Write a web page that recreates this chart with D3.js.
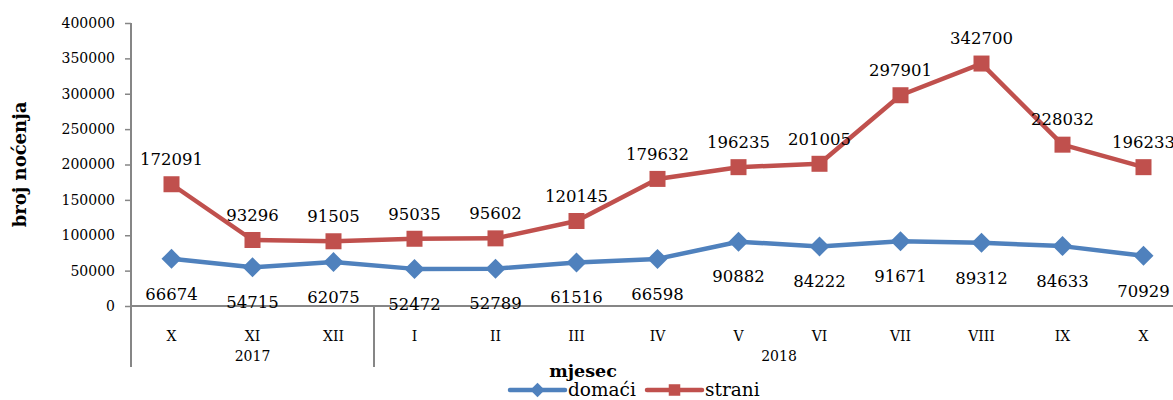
<!DOCTYPE html>
<html>
<head>
<meta charset="utf-8">
<script src="https://d3js.org/d3.v7.min.js"></script>
<style>
  body { margin: 0; background: #fff; }
  svg { display: block; }
  text { font-family: "DejaVu Serif", "Liberation Serif", serif; fill: #000; }
</style>
</head>
<body>
<div id="chart"></div>
<script>
//---------------------------DATA---------------------------//
var months = ["X", "XI", "XII", "I", "II", "III", "IV", "V", "VI", "VII", "VIII", "IX", "X"];
var years = [{ label: "2017", from: 0, to: 3 }, { label: "2018", from: 3, to: 13 }];
var domaci = [66674, 54715, 62075, 52472, 52789, 61516, 66598, 90882, 84222, 91671, 89312, 84633, 70929];
var strani = [172091, 93296, 91505, 95035, 95602, 120145, 179632, 196235, 201005, 297901, 342700, 228032, 196233];
var yTicks = [0, 50000, 100000, 150000, 200000, 250000, 300000, 350000, 400000];

var series = [
    { name: "domaći", values: domaci, color: "#4F81BD", marker: "diamond", labelDy: 35 },
    { name: "strani", values: strani, color: "#C0504D", marker: "square", labelDy: -25 }
];

//---------------------------SVG----------------------------//
var W = 1173, H = 400;
var plotLeft = 131, plotRight = 1184, plotTop = 23, plotBottom = 306;

var svg = d3.select("#chart").append("svg")
    .attr("width", W)
    .attr("height", H);

//--------------------------SCALES--------------------------//
var x = d3.scaleBand()
    .domain(d3.range(months.length))
    .range([plotLeft, plotRight]);

var y = d3.scaleLinear()
    .domain([0, 400000])
    .range([plotBottom, plotTop]);

//---------------------------AXES---------------------------//
var axisColor = "#868686";

var yAxis = svg.append("g")
    .attr("transform", "translate(" + plotLeft + ",0)")
    .call(d3.axisLeft(y).tickValues(yTicks).tickSize(6).tickPadding(10).tickFormat(d3.format("d")));
yAxis.select(".domain").remove();
yAxis.selectAll(".tick line").attr("stroke", axisColor).attr("stroke-width", 1.5);
yAxis.selectAll(".tick text").style("font-size", "14px");

// vertical axis line, running down through the category area
svg.append("line")
    .attr("x1", plotLeft).attr("x2", plotLeft)
    .attr("y1", plotTop).attr("y2", 367)
    .attr("stroke", axisColor).attr("stroke-width", 2);

// x axis line
svg.append("line")
    .attr("x1", plotLeft).attr("x2", plotRight)
    .attr("y1", plotBottom).attr("y2", plotBottom)
    .attr("stroke", axisColor).attr("stroke-width", 2);

// month labels
svg.selectAll(".month")
    .data(months)
    .enter()
    .append("text")
    .attr("class", "month")
    .attr("x", function(d, i) { return x(i) + x.bandwidth() / 2; })
    .attr("y", 341)
    .attr("text-anchor", "middle")
    .style("font-size", "14px")
    .text(function(d) { return d; });

// year groups + separator
years.forEach(function(g, i) {
    var x0 = x(g.from);
    var x1 = g.to < months.length ? x(g.to) : plotRight;
    svg.append("text")
        .attr("x", (x0 + x1) / 2)
        .attr("y", 361)
        .attr("text-anchor", "middle")
        .style("font-size", "14px")
        .text(g.label);
    if (i > 0) {
        svg.append("line")
            .attr("x1", x0).attr("x2", x0)
            .attr("y1", plotBottom).attr("y2", 367)
            .attr("stroke", axisColor).attr("stroke-width", 2);
    }
});

// axis titles
svg.append("text")
    .attr("transform", "translate(26," + ((plotTop + plotBottom) / 2) + ") rotate(-90)")
    .attr("text-anchor", "middle")
    .style("font-size", "18px")
    .style("font-weight", "bold")
    .text("broj noćenja");

svg.append("text")
    .attr("x", 583)
    .attr("y", 377)
    .attr("text-anchor", "middle")
    .style("font-size", "17.5px")
    .style("font-weight", "bold")
    .text("mjesec");

//--------------------------LINES---------------------------//
var line = d3.line()
    .x(function(d, i) { return x(i) + x.bandwidth() / 2; })
    .y(function(d) { return y(d); });

function drawMarker(g, type, color, cx, cy, big) {
    var s = big ? 1 : 0.72;
    if (type == "diamond") {
        var r = 10 * s;
        g.append("path")
            .attr("d", "M" + cx + "," + (cy - r) + "L" + (cx + r) + "," + cy + "L" + cx + "," + (cy + r) + "L" + (cx - r) + "," + cy + "Z")
            .attr("fill", color);
    } else {
        var h = 8 * s;
        g.append("rect")
            .attr("x", cx - h).attr("y", cy - h)
            .attr("width", 2 * h).attr("height", 2 * h)
            .attr("fill", color);
    }
}

series.forEach(function(s) {
    var g = svg.append("g");
    g.append("path")
        .attr("d", line(s.values))
        .attr("fill", "none")
        .attr("stroke", s.color)
        .attr("stroke-width", 4.5)
        .attr("stroke-linejoin", "round");

    s.values.forEach(function(v, i) {
        drawMarker(g, s.marker, s.color, x(i) + x.bandwidth() / 2, y(v), true);
    });

    g.selectAll(".lbl")
        .data(s.values)
        .enter()
        .append("text")
        .attr("x", function(d, i) { return x(i) + x.bandwidth() / 2; })
        .attr("y", function(d) { return y(d) + s.labelDy; })
        .attr("dy", "0.35em")
        .attr("text-anchor", "middle")
        .style("font-size", "16.5px")
        .text(function(d) { return d; });
});

//--------------------------LEGEND--------------------------//
var legendX = [510, 647];
series.forEach(function(s, i) {
    var lx = legendX[i], ly = 390;
    svg.append("line")
        .attr("x1", lx).attr("x2", lx + 55)
        .attr("y1", ly).attr("y2", ly)
        .attr("stroke", s.color)
        .attr("stroke-width", 4.5)
        .attr("stroke-linecap", "round");
    drawMarker(svg, s.marker, s.color, lx + 27.5, ly, false);
    svg.append("text")
        .attr("x", lx + 58)
        .attr("y", ly)
        .attr("dy", "0.35em")
        .style("font-size", "18.5px")
        .text(s.name);
});
</script>
</body>
</html>
